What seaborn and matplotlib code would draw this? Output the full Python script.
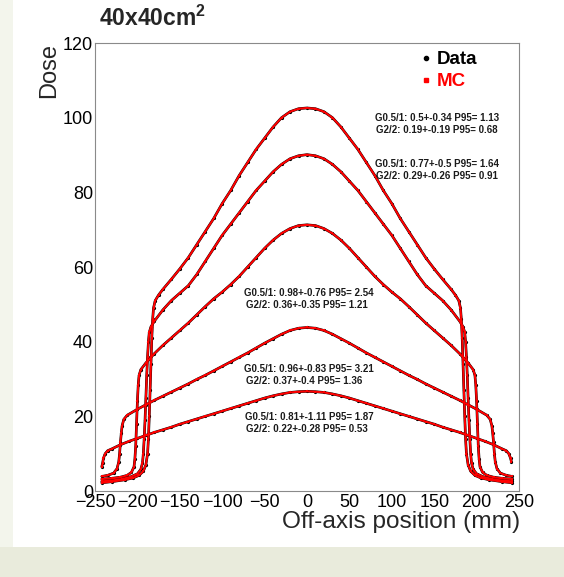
import matplotlib
matplotlib.use("Agg")
import matplotlib.pyplot as plt
import seaborn as sns
import pandas as pd
from matplotlib.patches import Rectangle
from matplotlib.lines import Line2D
from matplotlib.ticker import MultipleLocator

# ---------------- dose profiles (off-axis position in mm, relative dose) ----------------
x_a = [-242, -230, -215, -205, -198, -193, -190, -188, -187, -186, -185, -184, -183, -182, -181,
       -179, -175, -170, -160, -150, -140, -130, -120, -110, -100, -90, -80, -70, -60, -50, -40,
       -30, -20, -10, 0, 10, 20, 30, 40, 50, 60, 70, 80, 90, 100, 110, 120, 130, 140, 150, 160,
       170, 175, 179, 181, 182, 183, 184, 185, 186, 187, 188, 190, 193, 198, 205, 215, 230, 242]
dose_a = [2.2, 2.5, 3.0, 3.5, 4.2, 5.3, 7.0, 10, 14, 20, 27, 34, 41, 46, 49,
          51, 52.5, 54, 56.7, 59.5, 62.5, 66, 69.5, 73, 77, 80.5, 84.5, 88, 91.5, 94.5, 97.5,
          100, 101.6, 102.4, 102.6, 102.4, 101.6, 100, 97.5, 94.5, 91.5, 88, 84.5, 80.5, 77, 73,
          69.5, 66, 62.5, 59.5, 56.7, 54, 52.5, 51, 49, 46, 41, 34, 27, 20, 14, 10, 7.0, 5.3, 4.2,
          3.5, 3.0, 2.5, 2.2]

x_b = [-242, -230, -218, -208, -200, -196, -194, -193, -192, -191, -190, -189, -188, -187, -186,
       -184, -180, -170, -160, -150, -140, -130, -120, -110, -100, -90, -80, -70, -60, -50, -40,
       -30, -20, -10, 0, 10, 20, 30, 40, 50, 60, 70, 80, 90, 100, 110, 120, 130, 140, 150, 160,
       170, 180, 184, 186, 187, 188, 189, 190, 191, 192, 193, 194, 196, 200, 208, 218, 230, 242]
dose_b = [2.6, 2.8, 3.2, 3.8, 4.6, 5.8, 7.5, 10, 14, 19, 25, 31, 36, 40, 42.5,
          44, 45.5, 48.5, 51, 53, 55, 58, 61.5, 65, 68.5, 71.5, 74.5, 77.5, 80.5, 83, 85.5,
          87.5, 89, 89.8, 90.1, 89.8, 89, 87.5, 85.5, 83, 80.5, 77.5, 74.5, 71.5, 68.5, 65, 61.5,
          58, 55, 53, 51, 48.5, 45.5, 44, 42.5, 40, 36, 31, 25, 19, 14, 10, 7.5, 5.8, 4.6, 3.8,
          3.2, 2.8, 2.6]

x_c = [-242, -230, -220, -212, -207, -204, -203, -202, -201, -200, -199, -198, -196, -190, -180,
       -170, -160, -150, -140, -130, -120, -110, -100, -90, -80, -70, -60, -50, -40, -30, -20,
       -10, 0, 10, 20, 30, 40, 50, 60, 70, 80, 90, 100, 110, 120, 130, 140, 150, 160, 170, 180,
       190, 196, 198, 199, 200, 201, 202, 203, 204, 207, 212, 220, 230, 242]
dose_c = [3.2, 3.4, 3.7, 4.2, 5.0, 6.5, 8.5, 12, 18, 24, 28.5, 31, 32.5, 34.3, 36.8,
          39, 41, 43, 45, 47.2, 49.4, 51.5, 53.3, 55.3, 57.5, 60, 62.5, 65, 67.2, 69, 70.3,
          71.1, 71.3, 71.1, 70.3, 69, 67.2, 65, 62.5, 60, 57.5, 55.3, 53.3, 51.5, 49.4, 47.2, 45,
          43, 41, 39, 36.8, 34.3, 32.5, 31, 28.5, 24, 18, 12, 8.5, 6.5, 5.0, 4.2, 3.7, 3.4, 3.2]

x_d = [-242, -235, -228, -224, -222, -221, -220, -219, -218, -216, -212, -200, -190, -180, -170,
       -160, -150, -140, -130, -120, -110, -100, -90, -80, -70, -60, -50, -40, -30, -20, -10,
       0, 10, 20, 30, 40, 50, 60, 70, 80, 90, 100, 110, 120, 130, 140, 150, 160, 170, 180, 190,
       200, 212, 216, 218, 219, 220, 221, 222, 224, 228, 235, 242]
dose_d = [3.9, 4.2, 4.8, 6.0, 7.8, 10, 13, 15.5, 17.5, 19.2, 20.3, 21.9, 23.1, 24.3, 25.4,
          26.5, 27.6, 28.7, 29.9, 31.0, 32.2, 33.4, 34.6, 35.8, 37.0, 38.3, 39.6, 40.8, 42.0,
          43.0, 43.6, 43.8, 43.6, 43.0, 42.0, 40.8, 39.6, 38.3, 37.0, 35.8, 34.6, 33.4, 32.2,
          31.0, 29.9, 28.7, 27.6, 26.5, 25.4, 24.3, 23.1, 21.9, 20.3, 19.2, 17.5, 15.5, 13, 10,
          7.8, 6.0, 4.8, 4.2, 3.9]

x_e = [-242, -241, -240, -238, -235, -230, -220, -210, -200, -190, -180, -170, -160, -150, -140,
       -130, -120, -110, -100, -90, -80, -70, -60, -50, -40, -30, -20, -10, 0, 10, 20, 30, 40,
       50, 60, 70, 80, 90, 100, 110, 120, 130, 140, 150, 160, 170, 180, 190, 200, 210, 220, 230,
       235, 238, 240, 241]
dose_e = [6.5, 7.5, 8.8, 10.0, 10.8, 11.3, 12.4, 13.3, 14.1, 14.9, 15.7, 16.4, 17.1, 17.9, 18.6,
          19.3, 20.0, 20.7, 21.4, 22.1, 22.8, 23.5, 24.2, 24.9, 25.5, 26.0, 26.4, 26.6, 26.7,
          26.6, 26.4, 26.0, 25.5, 24.9, 24.2, 23.5, 22.8, 22.1, 21.4, 20.7, 20.0, 19.3, 18.6,
          17.9, 17.1, 16.4, 15.7, 14.9, 14.1, 13.3, 12.4, 11.3, 10.8, 10.0, 8.8, 7.9]

profile_names = ["A", "B", "C", "D", "E"]
profile_x = [x_a, x_b, x_c, x_d, x_e]
profile_dose = [dose_a, dose_b, dose_c, dose_d, dose_e]

# gamma pass statistics for each profile: (first line, second line)
gamma_g05 = ["G0.5/1: 0.5+-0.34 P95= 1.13", "G0.5/1: 0.77+-0.5 P95= 1.64",
             "G0.5/1: 0.98+-0.76 P95= 2.54", "G0.5/1: 0.96+-0.83 P95= 3.21",
             "G0.5/1: 0.81+-1.11 P95= 1.87"]
gamma_g2 = ["G2/2: 0.19+-0.19 P95= 0.68", "G2/2: 0.29+-0.26 P95= 0.91",
            "G2/2: 0.36+-0.35 P95= 1.21", "G2/2: 0.37+-0.4 P95= 1.36",
            "G2/2: 0.22+-0.28 P95= 0.53"]

x_ticks = [-250, -200, -150, -100, -50, 0, 50, 100, 150, 200, 250]
y_ticks = [0, 20, 40, 60, 80, 100, 120]

rows = []
for name, xs, ds in zip(profile_names, profile_x, profile_dose):
    for xv, dv in zip(xs, ds):
        rows.append({"profile": name, "x": xv, "dose": dv})
df = pd.DataFrame(rows)

# ---------------- figure ----------------
sns.set_theme(style="white")
plt.rcParams["font.family"] = ["Liberation Sans", "DejaVu Sans"]
plt.rcParams["mathtext.fontset"] = "custom"
plt.rcParams["mathtext.rm"] = "Liberation Sans"
plt.rcParams["mathtext.bf"] = "Liberation Sans:bold"

W, H = 564, 577
fig = plt.figure(figsize=(W / 100, H / 100), dpi=100, facecolor="#e9ebdc")


def fx(px):
    return px / W


def fy(py):
    return 1 - py / H


# slide background panels
fig.add_artist(Rectangle((0, fy(547)), fx(13), 547 / H, transform=fig.transFigure,
                         facecolor="#f3f5ec", edgecolor="none", zorder=-3))
fig.add_artist(Rectangle((fx(13), fy(547)), 1 - fx(13), 547 / H, transform=fig.transFigure,
                         facecolor="white", edgecolor="none", zorder=-2))

ax = fig.add_axes([fx(95), fy(491), 424 / W, 448 / H])
ax.set_facecolor("white")

sns.lineplot(data=df, x="x", y="dose", units="profile", estimator=None, sort=False,
             color="black", linewidth=1.9, marker="o", markersize=2.3, markeredgewidth=0,
             ax=ax, legend=False)
sns.lineplot(data=df, x="x", y="dose", units="profile", estimator=None, sort=False,
             color="red", linewidth=1.45, marker="s", markersize=1.8, markeredgewidth=0,
             ax=ax, legend=False)

ax.set_xlim(-250, 250)
ax.set_ylim(0, 120)
ax.set_xticks(x_ticks)
ax.set_yticks(y_ticks)
ax.xaxis.set_minor_locator(MultipleLocator(10))
ax.yaxis.set_minor_locator(MultipleLocator(5))
ax.tick_params(which="both", direction="in", colors="#8a8a8a", labelcolor="black",
               top=False, right=False, width=0.8)
ax.tick_params(which="major", length=12, labelsize=13)
ax.tick_params(which="minor", length=6)
ax.tick_params(axis="x", which="major", pad=2)
ax.tick_params(axis="y", which="major", pad=1.5)
for sp in ax.spines.values():
    sp.set_color("#8a8a8a")
    sp.set_linewidth(0.8)
ax.set_xlabel("")
ax.set_ylabel("")

# axis titles and heading
fig.text(fx(49), fy(43), "Dose", rotation=90, ha="center", va="top", fontsize=17)
fig.text(fx(520), fy(511), "Off-axis position (mm)", ha="right", va="top", fontsize=17.6)
fig.text(fx(99), fy(6), r"40x40cm$^{\mathbf{2}}$", ha="left", va="top", fontsize=16.5,
         fontweight="bold")

# legend
fig.add_artist(Line2D([fx(426)], [fy(58)], marker="o", markersize=3, color="black",
                      linestyle="none", transform=fig.transFigure))
fig.add_artist(Line2D([fx(426)], [fy(80)], marker="s", markersize=3.2, color="red",
                      linestyle="none", transform=fig.transFigure))
fig.text(fx(437), fy(59), "Data", ha="left", va="center", fontsize=13.5, fontweight="bold",
         color="black")
fig.text(fx(437), fy(82), "MC", ha="left", va="center", fontsize=13.5, fontweight="bold",
         color="red")

# gamma statistics next to each profile
text_pos = [(375, 118), (375, 164), (244, 293), (244, 369), (245, 417)]
for (px, py), t1, t2 in zip(text_pos, gamma_g05, gamma_g2):
    fig.text(fx(px), fy(py), t1, ha="left", va="center", fontsize=7, fontweight="bold",
             color="#1a1a1a")
    fig.text(fx(px + 1.5), fy(py + 12), t2, ha="left", va="center", fontsize=7,
             fontweight="bold", color="#1a1a1a")

fig.savefig("out.png", dpi=100, facecolor=fig.get_facecolor())
